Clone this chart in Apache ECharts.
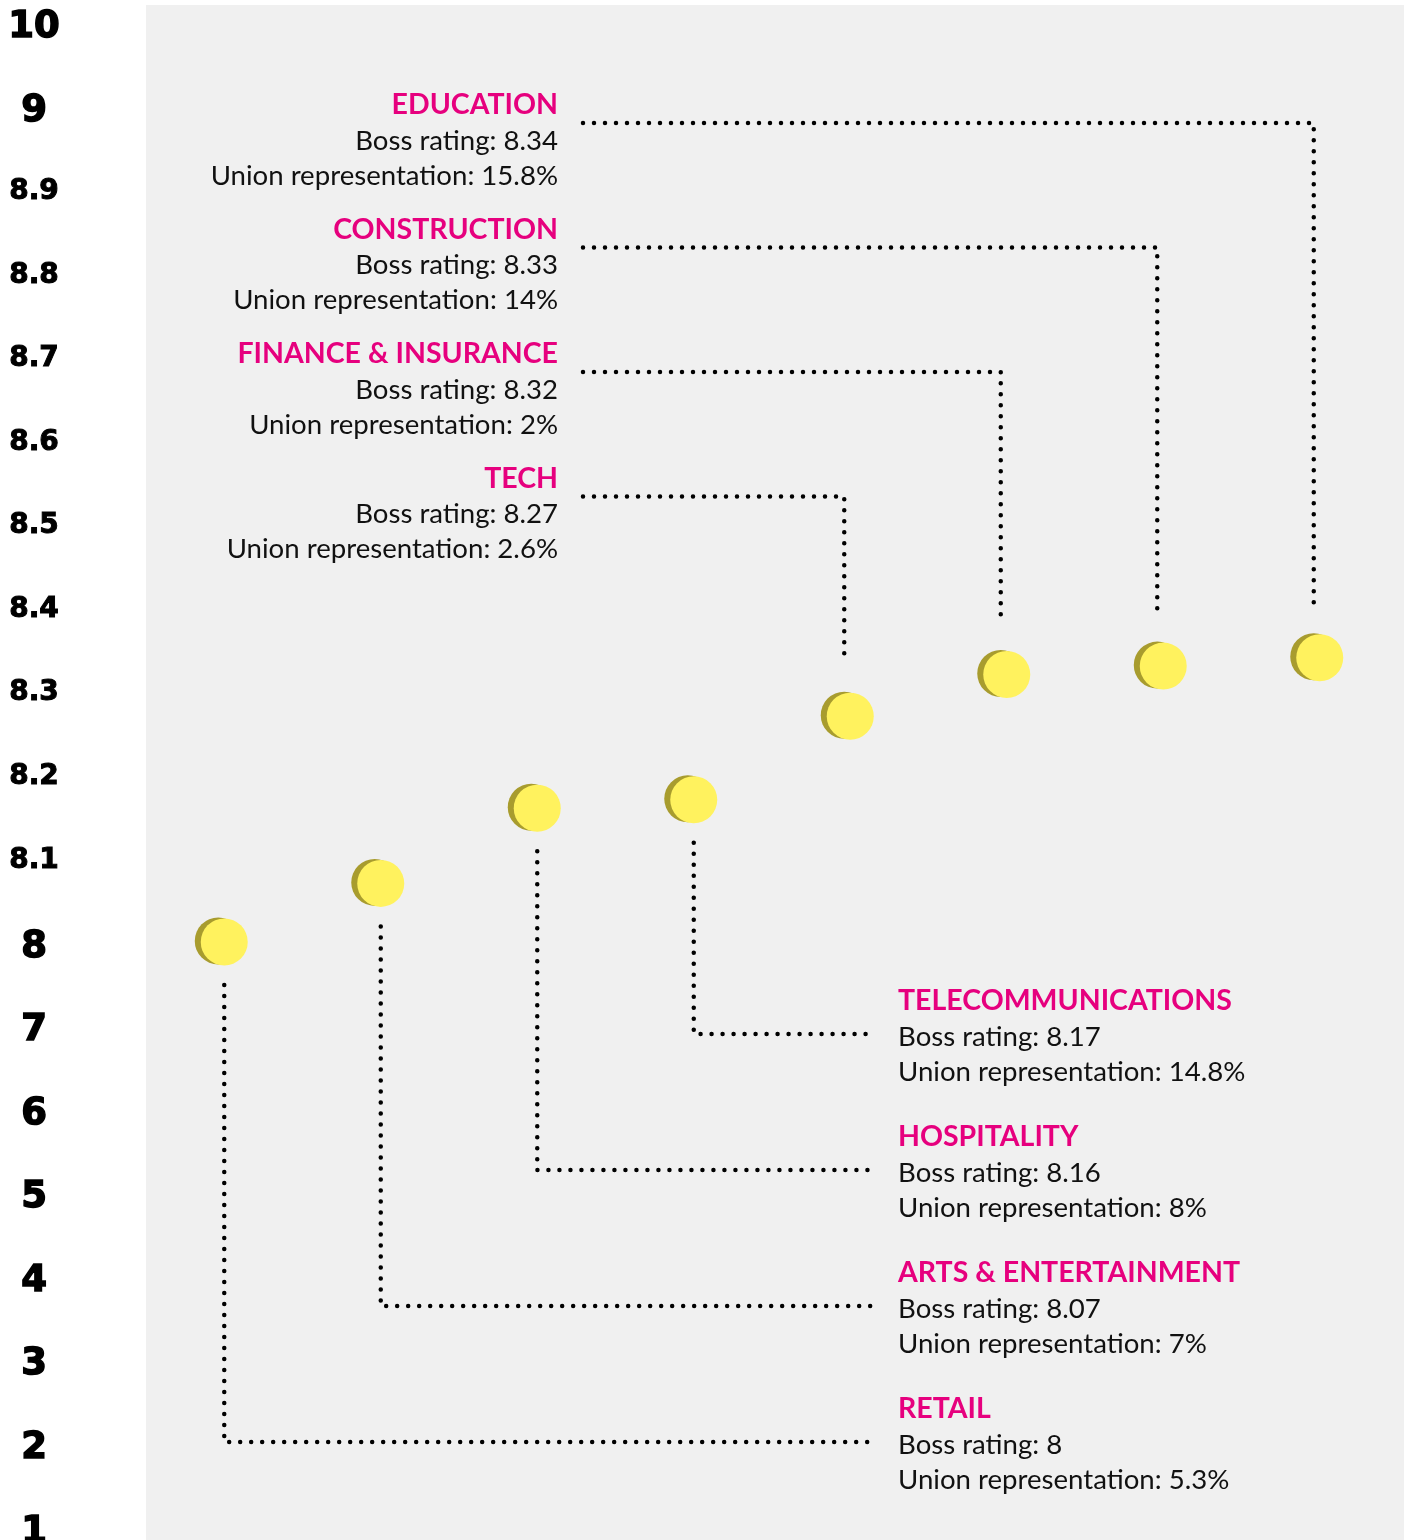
<!DOCTYPE html>
<html>
<head>
<meta charset="utf-8">
<script src="https://cdn.jsdelivr.net/npm/echarts@6/dist/echarts.min.js"></script>
<style>
  html, body { margin: 0; padding: 0; background: #fff; }
  #chart { width: 1409px; height: 1540px; }
</style>
</head>
<body>
<div id="chart"></div>
<script>
// industries, left to right
const categories = ['RETAIL', 'ARTS & ENTERTAINMENT', 'HOSPITALITY', 'TELECOMMUNICATIONS',
  'TECH', 'FINANCE & INSURANCE', 'CONSTRUCTION', 'EDUCATION'];
const bossRating = [8, 8.07, 8.16, 8.17, 8.27, 8.32, 8.33, 8.34];
const unionRep = [5.3, 7, 8, 14.8, 2.6, 2, 14, 15.8];
// y axis is broken: evenly spaced ticks, zoomed between 8 and 9
const yTicks = [1, 2, 3, 4, 5, 6, 7, 8, 8.1, 8.2, 8.3, 8.4, 8.5, 8.6, 8.7, 8.8, 8.9, 9, 10];

const MAGENTA = '#e6007e';
const TEXT_FONT = 'Lato';

// value -> position on the evenly spaced tick scale
function toPos(v) {
  for (let i = 0; i < yTicks.length - 1; i++) {
    if (v >= yTicks[i] && v <= yTicks[i + 1]) {
      return i + (v - yTicks[i]) / (yTicks[i + 1] - yTicks[i]);
    }
  }
  return v < yTicks[0] ? 0 : yTicks.length - 1;
}

const chart = echarts.init(document.getElementById('chart'));

function renderLeader(params, api) {
  const i = params.dataIndex;
  const pt = api.coord([api.value(0), api.value(1)]);
  const dot = { stroke: '#000', lineWidth: 4.5, lineDash: [0, 11], lineCap: 'round', fill: null };
  const lines = [
    categories[i],
    'Boss rating: ' + bossRating[i],
    'Union representation: ' + unionRep[i] + '%'
  ];
  let points, tx, align, ys;
  if (i >= 4) {
    // labels stacked top-left
    const k = 7 - i;
    const ly = 123 + 124.5 * k;
    const x = pt[0] - 6;
    points = [[583, ly], [x, ly], [x, pt[1] - 52]];
    tx = 558; align = 'right';
    ys = [ly - 18, ly + 18, ly + 53];
  } else {
    // labels stacked bottom-right
    const ly = 1442 - 136 * i;
    const x = pt[0];
    points = [[x, pt[1] + 43], [x, ly], [876, ly]];
    tx = 898; align = 'left';
    ys = [ly - 33, ly + 3, ly + 38];
  }
  const children = [{ type: 'polyline', shape: { points: points }, style: dot }];
  lines.forEach(function (t, j) {
    children.push({
      type: 'text',
      style: {
        text: t, x: tx, y: ys[j], align: align, verticalAlign: 'middle',
        fontFamily: TEXT_FONT, fontSize: j === 0 ? 28.5 : 27.6,
        fontWeight: j === 0 ? 'bold' : 'normal',
        fill: j === 0 ? MAGENTA : '#111'
      }
    });
  });
  return { type: 'group', children: children };
}

chart.setOption({
  animation: false,
  graphic: [{
    type: 'rect', left: 146, top: 5, z: -10,
    shape: { width: 1258, height: 1540 },
    style: { fill: '#f0f0f0' }
  }],
  grid: { left: 146, right: 11, top: 22.5, bottom: 13, outerBoundsMode: 'none' },
  xAxis: {
    type: 'category', data: categories, boundaryGap: true, show: false
  },
  yAxis: {
    type: 'value', min: 0, max: yTicks.length - 1, interval: 1,
    axisLine: { show: false }, axisTick: { show: false }, splitLine: { show: false },
    axisLabel: {
      margin: 112, align: 'center',
      formatter: function (v) {
        const t = yTicks[v];
        return Number.isInteger(t) ? '{big|' + t + '}' : '{small|' + t + '}';
      },
      rich: {
        big: {
          fontFamily: 'DejaVu Sans', fontWeight: 'bold', fontSize: 37, color: '#000',
          textBorderColor: '#000', textBorderWidth: 1.5, padding: [10, 0, 0, 0]
        },
        small: {
          fontFamily: 'DejaVu Sans', fontWeight: 'bold', fontSize: 28, color: '#000',
          textBorderColor: '#000', textBorderWidth: 1, padding: [4, 0, 0, 0]
        }
      }
    }
  },
  series: [
    {
      type: 'custom',
      data: bossRating.map(function (v, i) { return [i, toPos(v)]; }),
      encode: { x: 0, y: 1 },
      renderItem: renderLeader,
      clip: false,
      silent: true,
      z: 1
    },
    {
      type: 'scatter',
      data: bossRating.map(function (v, i) { return [i, toPos(v)]; }),
      symbolSize: 47,
      itemStyle: {
        color: '#fff25e', opacity: 1,
        shadowColor: '#a89c2e', shadowBlur: 0, shadowOffsetX: -6, shadowOffsetY: -1
      },
      z: 3
    }
  ]
});
</script>
</body>
</html>
